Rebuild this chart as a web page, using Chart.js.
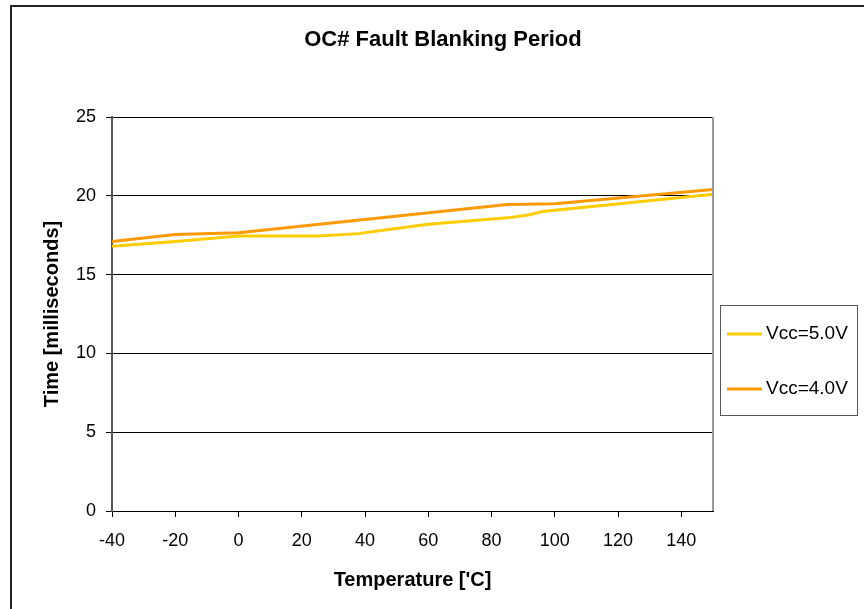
<!DOCTYPE html>
<html>
<head>
<meta charset="utf-8">
<script src="https://cdn.jsdelivr.net/npm/chart.js@4/dist/chart.umd.min.js"></script>
<style>
html,body{margin:0;padding:0;background:#fff;}
#wrap{width:864px;height:609px;position:relative;}
</style>
</head>
<body>
<div id="wrap"><canvas id="c" width="864" height="609"></canvas></div>
<script>
const chartTitle = "OC# Fault Blanking Period";
const xAxisTitle = "Temperature ['C]";
const yAxisTitle = "Time [milliseconds]";
const seriesNames = ["Vcc=5.0V", "Vcc=4.0V"];
const seriesColors = ["#FFCC00", "#FF9900"];

const temps5 = [-40, -20, 0, 25, 38, 45, 60, 85, 92, 96, 118, 150];
const vcc5 = [16.8, 17.1, 17.45, 17.45, 17.6, 17.8, 18.2, 18.6, 18.8, 19.0, 19.45, 20.1];
const temps4 = [-40, -20, 0, 85, 100, 150];
const vcc4 = [17.1, 17.55, 17.65, 19.45, 19.5, 20.4];

const xTicks = [-40, -20, 0, 20, 40, 60, 80, 100, 120, 140];
const yTicks = [0, 5, 10, 15, 20, 25];
const xMin = -40, xMax = 150;
const yMin = 0, yMax = 25;

const FONT = "Arial, 'Liberation Sans', sans-serif";

const toPts = (xs, ys) => xs.map((x, i) => ({x: x, y: ys[i]}));

const decor = {
  id: 'decor',
  beforeDraw(chart) {
    const ctx = chart.ctx;
    ctx.save();
    ctx.fillStyle = '#fff';
    ctx.fillRect(0, 0, chart.width, chart.height);
    ctx.restore();
  },
  afterDraw(chart) {
    const ctx = chart.ctx;
    const ca = chart.chartArea;
    ctx.save();
    ctx.strokeStyle = '#222';
    ctx.lineWidth = 2;
    ctx.beginPath();
    ctx.moveTo(11, chart.height + 2);
    ctx.lineTo(11, 6);
    ctx.lineTo(chart.width + 2, 6);
    ctx.stroke();
    ctx.strokeStyle = '#9a9a9a';
    ctx.lineWidth = 2;
    ctx.beginPath();
    ctx.moveTo(ca.right, ca.top);
    ctx.lineTo(ca.right, ca.bottom);
    ctx.stroke();
    ctx.fillStyle = '#000';
    ctx.font = "bold 22px " + FONT;
    ctx.textAlign = 'center';
    ctx.textBaseline = 'middle';
    ctx.fillText(chartTitle, 443, 40);
    const lx = 720, ly = 305, lw = 137, lh = 110;
    ctx.strokeStyle = '#555';
    ctx.lineWidth = 1;
    ctx.strokeRect(lx + 0.5, ly + 0.5, lw, lh);
    ctx.font = "19px " + FONT;
    ctx.textAlign = 'left';
    const rows = [334, 389];
    chart.data.datasets.forEach((ds, i) => {
      const y = rows[i];
      ctx.strokeStyle = ds.borderColor;
      ctx.lineWidth = 3;
      ctx.beginPath();
      ctx.moveTo(727, y);
      ctx.lineTo(762, y);
      ctx.stroke();
      ctx.fillStyle = '#000';
      ctx.fillText(ds.label, 766, y);
    });
    ctx.restore();
  }
};

new Chart(document.getElementById('c'), {
  type: 'line',
  data: {
    datasets: [
      {label: seriesNames[0], data: toPts(temps5, vcc5), borderColor: seriesColors[0], backgroundColor: seriesColors[0], borderWidth: 3, pointRadius: 0, tension: 0, fill: false},
      {label: seriesNames[1], data: toPts(temps4, vcc4), borderColor: seriesColors[1], backgroundColor: seriesColors[1], borderWidth: 3, pointRadius: 0, tension: 0, fill: false}
    ]
  },
  options: {
    responsive: false,
    animation: false,
    devicePixelRatio: 1,
    layout: {padding: {top: 117, left: 40, right: 151, bottom: 17}},
    plugins: {
      legend: {display: false},
      title: {display: false},
      tooltip: {enabled: false}
    },
    scales: {
      x: {
        type: 'linear',
        min: xMin, max: xMax,
        afterFit(s) { s.height = 81; },
        afterBuildTicks(s) { s.ticks = xTicks.map(v => ({value: v})); },
        ticks: {color: '#000', font: {family: FONT, size: 18}, padding: 13, maxRotation: 0, autoSkip: false},
        grid: {drawOnChartArea: false, drawTicks: true, tickLength: 6, color: '#000', lineWidth: 1},
        border: {display: true, color: '#000', width: 1},
        title: {display: true, text: xAxisTitle, color: '#000', font: {family: FONT, size: 20, weight: 'bold'}, padding: {top: 0, bottom: 0}}
      },
      y: {
        type: 'linear',
        min: yMin, max: yMax,
        afterFit(s) { s.width = 72; },
        afterBuildTicks(s) { s.ticks = yTicks.map(v => ({value: v})); },
        ticks: {color: '#000', font: {family: FONT, size: 18}, padding: 10},
        grid: {color: '#000', lineWidth: 1, drawTicks: true, tickLength: 6},
        border: {display: true, color: '#555', width: 2},
        title: {display: true, text: yAxisTitle, color: '#000', font: {family: FONT, size: 20, weight: 'bold'}, padding: {top: 0, bottom: 0}}
      }
    }
  },
  plugins: [decor]
});
</script>
</body>
</html>
